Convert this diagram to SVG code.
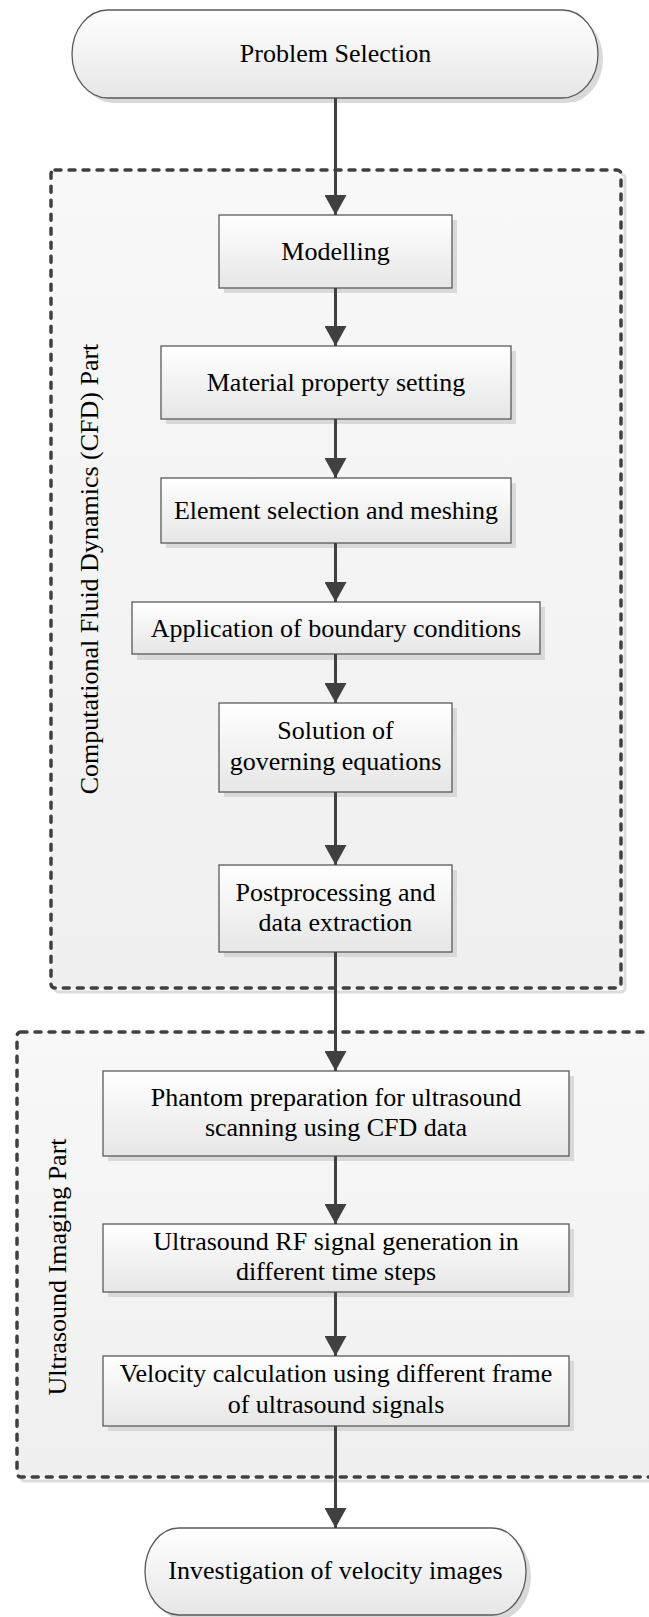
<svg xmlns="http://www.w3.org/2000/svg" width="649" height="1617" viewBox="0 0 649 1617">
<defs>
<linearGradient id="boxGrad" x1="0" y1="0" x2="0" y2="1">
<stop offset="0" stop-color="#ffffff"/>
<stop offset="1" stop-color="#e6e6e6"/>
</linearGradient>
<linearGradient id="grpGrad" x1="0" y1="0" x2="0" y2="1">
<stop offset="0" stop-color="#f8f8f8"/>
<stop offset="1" stop-color="#efefef"/>
</linearGradient>
<marker id="arrow" viewBox="0 0 20 22" refX="20" refY="11" markerWidth="20" markerHeight="22" markerUnits="userSpaceOnUse" orient="auto">
<path d="M0,0 L20,11 L0,22 Z" fill="#404040"/>
</marker>
<style>
.box{fill:url(#boxGrad);stroke:#5a5a5a;stroke-width:1.3}
.shadow{fill:#d9d9d9}
.grp{fill:url(#grpGrad);stroke:#404040;stroke-width:3.5;stroke-dasharray:6 8;stroke-linecap:round}
.grpshadow{fill:none;stroke:#dcdcdc;stroke-width:3}
.t{font-family:"Liberation Serif","Times New Roman",serif;font-size:26px;fill:#000;text-anchor:middle}
.conn{stroke:#404040;stroke-width:3;fill:none;marker-end:url(#arrow)}
</style>
</defs>

<g id="group-cfd">
<rect x="55" y="174" width="570" height="818" rx="4" class="grpshadow"/>
<rect x="51" y="170" width="570" height="818" rx="4" class="grp"/>
<text class="t" transform="translate(97.5,569) rotate(-90)">Computational Fluid Dynamics (CFD) Part</text>
</g>

<g id="group-us">
<rect x="21" y="1036" width="660" height="445" rx="4" class="grpshadow"/>
<rect x="17" y="1032" width="660" height="445" rx="4" class="grp"/>
<text class="t" transform="translate(66,1267) rotate(-90)">Ultrasound Imaging Part</text>
</g>

<g id="n-problem">
<rect x="77" y="15" width="526" height="88" rx="36" ry="44" class="shadow"/>
<rect x="72" y="10" width="526" height="88" rx="36" ry="44" class="box"/>
<text class="t" x="335.5" y="62">Problem Selection</text>
</g>

<g id="n-modelling">
<rect x="224" y="220" width="233" height="73" class="shadow"/>
<rect x="219" y="215" width="233" height="73" class="box"/>
<text class="t" x="335.5" y="260">Modelling</text>
</g>

<g id="n-material">
<rect x="166" y="351" width="350" height="73" class="shadow"/>
<rect x="161" y="346" width="350" height="73" class="box"/>
<text class="t" x="336" y="391">Material property setting</text>
</g>

<g id="n-element">
<rect x="166" y="483" width="350" height="65" class="shadow"/>
<rect x="161" y="478" width="350" height="65" class="box"/>
<text class="t" x="336" y="519">Element selection and meshing</text>
</g>

<g id="n-application">
<rect x="137" y="607" width="408" height="53" class="shadow"/>
<rect x="132" y="602" width="408" height="52" class="box"/>
<text class="t" x="336" y="636.5">Application of boundary conditions</text>
</g>

<g id="n-solution">
<rect x="224" y="708" width="233" height="89" class="shadow"/>
<rect x="219" y="703" width="233" height="89" class="box"/>
<text class="t" x="335.5" y="739">Solution of</text>
<text class="t" x="335.5" y="770">governing equations</text>
</g>

<g id="n-post">
<rect x="224" y="870" width="233" height="87" class="shadow"/>
<rect x="219" y="865" width="233" height="87" class="box"/>
<text class="t" x="335.5" y="901">Postprocessing and</text>
<text class="t" x="335.5" y="931">data extraction</text>
</g>

<g id="n-phantom">
<rect x="108" y="1076" width="466" height="85" class="shadow"/>
<rect x="103" y="1071" width="466" height="85" class="box"/>
<text class="t" x="336" y="1106">Phantom preparation for ultrasound</text>
<text class="t" x="336" y="1136">scanning using CFD data</text>
</g>

<g id="n-rf">
<rect x="108" y="1229" width="466" height="68" class="shadow"/>
<rect x="103" y="1224" width="466" height="68" class="box"/>
<text class="t" x="336" y="1250">Ultrasound RF signal generation in</text>
<text class="t" x="336" y="1280">different time steps</text>
</g>

<g id="n-velocity">
<rect x="108" y="1361" width="466" height="70" class="shadow"/>
<rect x="103" y="1356" width="466" height="70" class="box"/>
<text class="t" x="336" y="1382">Velocity calculation using different frame</text>
<text class="t" x="336" y="1413">of ultrasound signals</text>
</g>

<g id="n-investigation">
<rect x="150" y="1533" width="381" height="87" rx="34" ry="43.5" class="shadow"/>
<rect x="145" y="1528" width="381" height="87" rx="34" ry="43.5" class="box"/>
<text class="t" x="335.5" y="1579">Investigation of velocity images</text>
</g>

<g id="connectors">
<line x1="335.5" y1="98" x2="335.5" y2="215" class="conn"/>
<line x1="335.5" y1="288" x2="335.5" y2="346" class="conn"/>
<line x1="335.5" y1="419" x2="335.5" y2="478" class="conn"/>
<line x1="335.5" y1="543" x2="335.5" y2="602" class="conn"/>
<line x1="335.5" y1="654" x2="335.5" y2="703" class="conn"/>
<line x1="335.5" y1="792" x2="335.5" y2="865" class="conn"/>
<line x1="335.5" y1="952" x2="335.5" y2="1071" class="conn"/>
<line x1="335.5" y1="1156" x2="335.5" y2="1224" class="conn"/>
<line x1="335.5" y1="1292" x2="335.5" y2="1356" class="conn"/>
<line x1="335.5" y1="1426" x2="335.5" y2="1528" class="conn"/>
</g>
</svg>
